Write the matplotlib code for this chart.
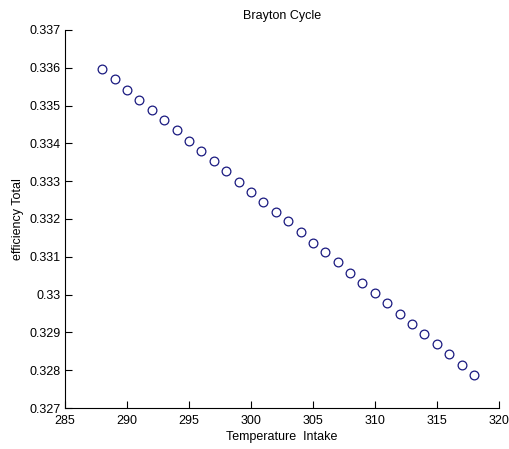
import matplotlib
matplotlib.use("Agg")
import matplotlib.pyplot as plt
from matplotlib.ticker import FuncFormatter

plt.rcParams["font.family"] = ["Liberation Sans", "DejaVu Sans"]

# ==========================================================
# Data
# ==========================================================

temperature_intake = list(range(288, 319))

efficiency_total = [
    0.335968, 0.335704, 0.335413, 0.335148, 0.334892, 0.334619,
    0.334362, 0.334071, 0.333807, 0.333542, 0.333270, 0.332987,
    0.332722, 0.332458, 0.332193, 0.331934, 0.331651, 0.331373,
    0.331119, 0.330854, 0.330571, 0.330299, 0.330034, 0.329770,
    0.329495, 0.329214, 0.328950, 0.328685, 0.328429, 0.328146,
    0.327873,
]

x_ticks = [285, 290, 295, 300, 305, 310, 315, 320]
y_ticks = [0.327, 0.328, 0.329, 0.330, 0.331, 0.332,
           0.333, 0.334, 0.335, 0.336, 0.337]

# ==========================================================
# Plot
# ==========================================================

fig = plt.figure(figsize=(5.09, 4.49), dpi=100)
ax = fig.add_axes([0.1277, 0.0913, 0.8523, 0.8419])

ax.plot(
    temperature_intake,
    efficiency_total,
    linestyle="none",
    marker="o",
    markersize=6.3,
    markerfacecolor="none",
    markeredgecolor="#1a1a80",
    markeredgewidth=0.9
)

ax.set_xlim(285, 320)
ax.set_ylim(0.327, 0.337)
ax.set_xticks(x_ticks)
ax.set_yticks(y_ticks)
ax.yaxis.set_major_formatter(FuncFormatter(lambda v, p: f"{v:g}"))

for side in ("top", "right"):
    ax.spines[side].set_visible(False)
for side in ("left", "bottom"):
    ax.spines[side].set_linewidth(0.8)

ax.tick_params(direction="in", length=5, width=0.8, labelsize=9)
ax.tick_params(axis="x", pad=5)
ax.tick_params(axis="y", pad=3)

ax.set_title("Brayton Cycle", fontsize=9, pad=8)
ax.set_xlabel("Temperature  Intake", fontsize=9, labelpad=3)
ax.set_ylabel("efficiency Total", fontsize=9, labelpad=4)

fig.savefig("out.png", dpi=100)
plt.close(fig)
